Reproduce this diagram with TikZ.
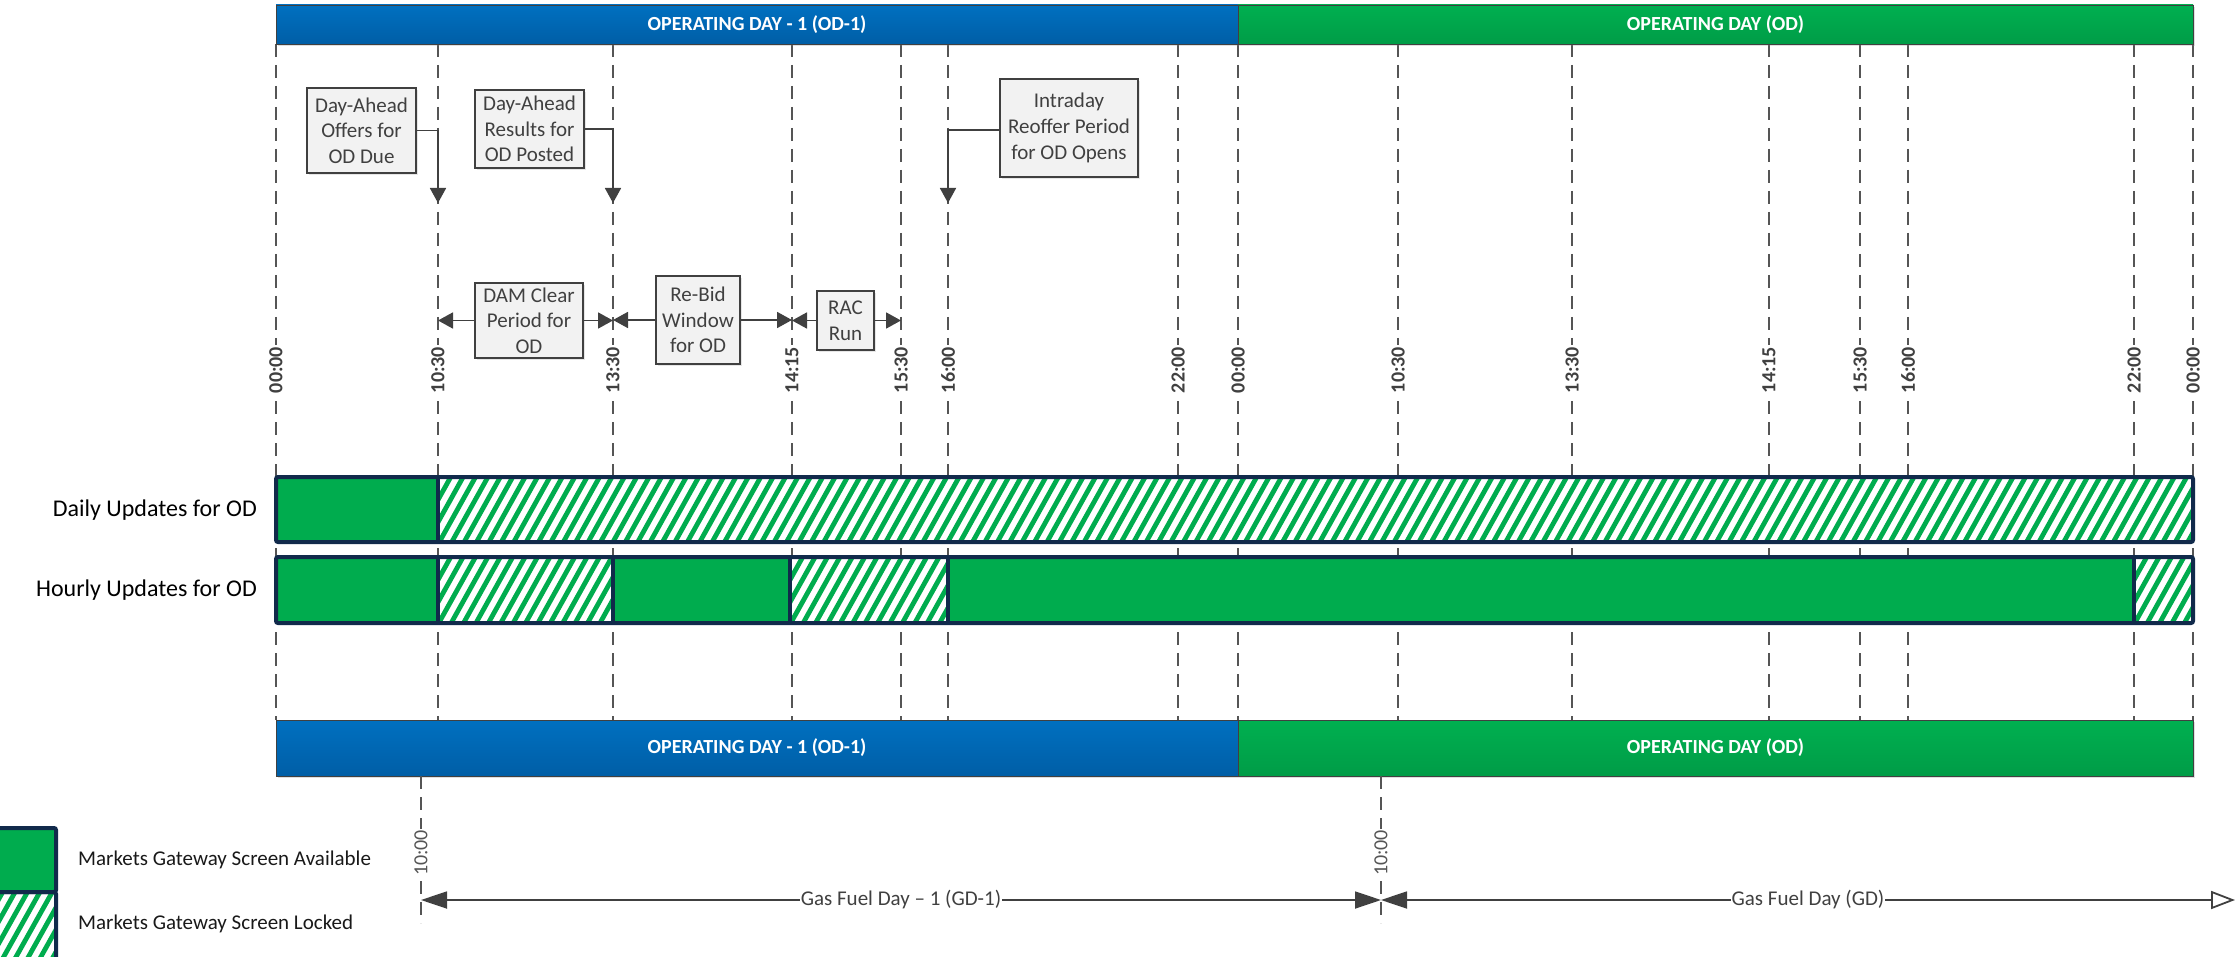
\documentclass[tikz,border=0pt]{standalone}
\usepackage{fontspec}
\setmainfont{Carlito}
\usetikzlibrary{arrows.meta,shadows}
\definecolor{ogreen}{HTML}{00AC4E}
\definecolor{navy}{HTML}{112A4B}
\definecolor{dgray}{HTML}{404040}
\definecolor{lgray}{HTML}{555555}
\definecolor{boxfill}{HTML}{F2F2F2}
\definecolor{btop}{HTML}{0070C0}
\definecolor{bbot}{HTML}{005EA6}
\definecolor{gtop}{HTML}{00B050}
\definecolor{gbot}{HTML}{009C47}
\newcommand\hatchbox[4]{%
  \begin{scope}
    \clip (#1,#2) rectangle (#3,#4);
    \fill[white] (#1,#2) rectangle (#3,#4);
    \pgfmathsetmacro\hh{#4-#2}
    \pgfmathsetmacro\dxx{\hh*0.577}
    \pgfmathsetmacro\sa{#1-\dxx-12.4}
    \pgfmathsetmacro\sb{\sa+12.4}
    \foreach \s in {\sa,\sb,...,#3} \draw[ogreen,line width=4.8pt] (\s,#4+3) -- ++(\dxx+2,-\hh-6);
  \end{scope}}
\begin{document}
\begin{tikzpicture}[x=1pt,y={(0pt,-1pt)},
  tline/.style={draw=lgray,line width=1.6pt,dash pattern=on 13pt off 8pt},
  tlabel/.style={fill=white,rotate=90,inner sep=1.5pt,text=dgray,font=\fontsize{20}{24}\selectfont\bfseries},
  glabelt/.style={fill=white,rotate=90,inner sep=1.5pt,text=lgray,font=\fontsize{20}{24}\selectfont},
  daybar/.style={draw=dgray,line width=0.8pt,inner sep=0pt,outer sep=0pt,anchor=north west,text=white,
    font=\fontsize{20}{24}\selectfont\bfseries,drop shadow={opacity=0.25,shadow xshift=1.5pt,shadow yshift=-2pt}},
  callout/.style={draw=dgray,line width=1.5pt,fill=boxfill,align=center,inner sep=0pt,text=dgray,
    font=\fontsize{21}{25.7}\selectfont,drop shadow={opacity=0.2,shadow xshift=2pt,shadow yshift=-2pt}},
  conn/.style={draw=dgray,line width=1.8pt,-{Triangle[length=15pt,width=16pt]}},
  gline/.style={draw=dgray,line width=1.8pt},
  glabel/.style={fill=white,inner sep=1pt,text=dgray,font=\fontsize{21}{25}\selectfont},
  rowlabel/.style={anchor=east,inner sep=0pt,font=\fontsize{24}{28}\selectfont},
  legtext/.style={anchor=west,inner sep=0pt,text=black!90,font=\fontsize{21}{25}\selectfont},
  barborder/.style={draw=navy,line width=4pt}]
\useasboundingbox (0,0) rectangle (2237,957);

% time lines
\foreach \n/\x/\t in {a/276/00:00,b/438/10:30,c/613/13:30,d/792/14:15,e/901/15:30,f/948/16:00,g/1178/22:00,h/1238/00:00,i/1398/10:30,j/1572/13:30,k/1769/14:15,l/1860/15:30,m/1908/16:00,n/2134/22:00,o/2193/00:00}{
  \coordinate (top\n) at (\x,44);
  \coordinate (bot\n) at (\x,720);
  \draw[tline] (top\n) -- (bot\n);
  \node[tlabel] (lab\n) at (\x,370) {\t};
}

% top bars
\node[daybar,top color=btop,bottom color=bbot,minimum width=962pt,minimum height=39pt] (od1top) at (276,5) {OPERATING DAY - 1 (OD-1)};
\node[daybar,top color=gtop,bottom color=gbot,minimum width=955pt,minimum height=39pt] (odtop) at (1238,5) {OPERATING DAY (OD)};

% bottom bars
\node[daybar,top color=btop,bottom color=bbot,minimum width=962pt,minimum height=56pt] (od1bot) at (276,720) {OPERATING DAY - 1 (OD-1)};
\node[daybar,top color=gtop,bottom color=gbot,minimum width=955pt,minimum height=56pt] (odbot) at (1238,720) {OPERATING DAY (OD)};

% callouts
\node[callout,minimum width=109pt,minimum height=85pt] (box1) at (361.5,130.5) {Day-Ahead\\Offers for\\OD Due};
\node[callout,minimum width=109pt,minimum height=78pt] (box2) at (529.5,129) {Day-Ahead\\Results for\\OD Posted};
\node[callout,minimum width=138pt,minimum height=98pt] (box3) at (1069,128) {Intraday\\Reoffer Period\\for OD Opens};
\coordinate (tip1) at (438,203);
\coordinate (tip2) at (613,203);
\coordinate (tip3) at (948,203);
\draw[conn] (box1.east) -| (tip1);
\draw[conn] (box2.east) -| (tip2);
\draw[conn] (box3.west |- 0,130) -| (tip3);

\node[callout,minimum width=108pt,minimum height=75pt] (dam) at (529,320.5) {DAM Clear\\Period for\\OD};
\node[callout,minimum width=84pt,minimum height=88pt] (rebid) at (698,320) {Re-Bid\\Window\\for OD};
\node[callout,minimum width=57pt,minimum height=59pt] (rac) at (845.5,320.5) {RAC\\Run};
\draw[conn] (dam.west) -- (dam.west -| topb);
\draw[conn] (dam.east) -- (dam.east -| topc);
\draw[conn] (rebid.west) -- (rebid.west -| topc);
\draw[conn] (rebid.east) -- (rebid.east -| topd);
\draw[conn] (rac.west) -- (rac.west -| topd);
\draw[conn] (rac.east) -- (rac.east -| tope);

% update bars
\fill[ogreen] (276,477) rectangle (438,542);
\hatchbox{438}{477}{2193}{542}
\draw[barborder] (438,477) -- (438,542);
\draw[barborder,rounded corners=2pt] (276,477) rectangle (2193,542);

\fill[ogreen] (276,557) rectangle (438,623);
\hatchbox{438}{557}{613}{623}
\fill[ogreen] (613,557) rectangle (790,623);
\hatchbox{790}{557}{948}{623}
\fill[ogreen] (948,557) rectangle (2134,623);
\hatchbox{2134}{557}{2193}{623}
\foreach \x in {438,613,790,948,2134} \draw[barborder] (\x,557) -- (\x,623);
\draw[barborder,rounded corners=2pt] (276,557) rectangle (2193,623);

\node[rowlabel] (daily) at (257,510) {Daily Updates for OD};
\node[rowlabel] (hourly) at (257,590) {Hourly Updates for OD};

% gas day
\coordinate (g1t) at (421,776);
\coordinate (g1b) at (421,923);
\coordinate (g2t) at (1381,776);
\coordinate (g2b) at (1381,923);
\draw[tline] (g1t) -- (g1b);
\draw[tline] (g2t) -- (g2b);
\node[glabelt] (t1000a) at (421,853) {10:00};
\node[glabelt] (t1000b) at (1381,853) {10:00};
\coordinate (ga) at (421,900);
\coordinate (gb) at (1381,900);
\coordinate (gc) at (2235,900);
\draw[gline,{Triangle[length=26pt,width=17pt]}-{Triangle[length=26pt,width=17pt]}] (ga) -- node[glabel] (gd1) {Gas Fuel Day – 1 (GD-1)} (gb);
\draw[gline,{Triangle[length=26pt,width=17pt]}-{Triangle[open,length=24pt,width=18pt,fill=white]}] (gb) -- node[glabel] (gd) {Gas Fuel Day (GD)} (gc);

% legend
\fill[ogreen] (-10,828) rectangle (56,892);
\hatchbox{-10}{892}{56}{970}
\draw[barborder,rounded corners=2pt] (-10,828) rectangle (56,892);
\draw[barborder,rounded corners=2pt] (-10,892) rectangle (56,970);
\node[legtext] (leg1) at (78,860) {Markets Gateway Screen Available};
\node[legtext] (leg2) at (78,924) {Markets Gateway Screen Locked};
\end{tikzpicture}
\end{document}
